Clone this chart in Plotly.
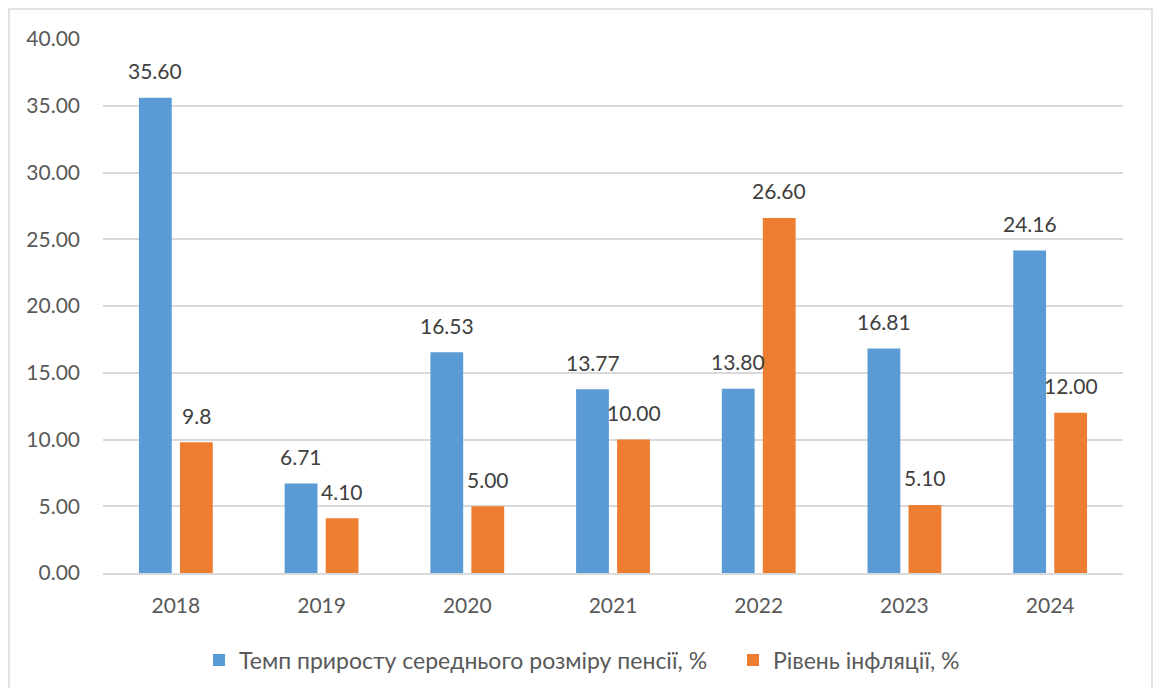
import plotly.graph_objects as go

# Роки та показники
years = ["2018", "2019", "2020", "2021", "2022", "2023", "2024"]
pension_growth = [35.60, 6.71, 16.53, 13.77, 13.80, 16.81, 24.16]
inflation = [9.8, 4.10, 5.00, 10.00, 26.60, 5.10, 12.00]
pension_labels = ["35.60", "6.71", "16.53", "13.77", "13.80", "16.81", "24.16"]
inflation_labels = ["9.8", "4.10", "5.00", "10.00", "26.60", "5.10", "12.00"]
y_ticks = [0, 5, 10, 15, 20, 25, 30, 35, 40]

series_names = ["Темп приросту середнього розміру пенсії, %", "Рівень інфляції, %"]
BLUE = "#5B9BD5"
ORANGE = "#ED7D31"
FONT = "Lato"

# Позиції категорій на осі X
pos = list(range(len(years)))

fig = go.Figure()
fig.add_trace(go.Bar(x=pos, y=pension_growth, name=series_names[0],
                     marker=dict(color=BLUE, line=dict(width=0)),
                     legend="legend"))
fig.add_trace(go.Bar(x=pos, y=inflation, name=series_names[1],
                     marker=dict(color=ORANGE, line=dict(width=0)),
                     legend="legend2"))

# Підписи значень над стовпчиками
annotations = []
for vals, labels, shift in ((pension_growth, pension_labels, -20.5),
                            (inflation, inflation_labels, 20.5)):
    for p, v, lab in zip(pos, vals, labels):
        annotations.append(dict(
            x=p, y=v, xref="x", yref="y", text=lab, showarrow=False,
            xshift=shift, yshift=27, yanchor="middle", xanchor="center",
            font=dict(family=FONT, size=21, color="#404040")))

# Рамка навколо діаграми
L, R, T, B = 103, 34, 39, 115
W, H = 1157, 688
pw, ph = W - L - R, H - T - B
shape = dict(type="rect", xref="paper", yref="paper",
             x0=(9 - L) / pw, x1=(1152 - L) / pw,
             y0=(H - B - 700) / ph, y1=(H - B - 9) / ph,
             line=dict(color="#d9d9d9", width=1.5), fillcolor="rgba(0,0,0,0)",
             layer="below")


def legend_at(left_px):
    # одна легенда на серію, розміщена в пікселях контейнера
    return dict(orientation="h", xref="container", yref="container",
                x=left_px / W, xanchor="left",
                y=1 - 660 / H, yanchor="middle",
                bgcolor="rgba(0,0,0,0)",
                font=dict(family=FONT, size=23, color="#595959"),
                itemsizing="constant")


fig.update_layout(
    width=W, height=H,
    margin=dict(l=L, r=R, t=T, b=B, autoexpand=False),
    paper_bgcolor="white", plot_bgcolor="white",
    barmode="group", bargap=0.437, bargroupgap=0.2,
    font=dict(family=FONT, size=21, color="#595959"),
    showlegend=True,
    legend=legend_at(199),
    legend2=legend_at(733),
    annotations=annotations,
    shapes=[shape],
    xaxis=dict(type="linear", range=[-0.5, len(years) - 0.5],
               tickvals=pos, ticktext=years,
               showgrid=False, zeroline=False, showline=True,
               linecolor="#d9d9d9", linewidth=1.5,
               ticks="", ticklabelstandoff=13,
               tickfont=dict(family=FONT, size=21, color="#595959")),
    yaxis=dict(range=[0, 40], tickvals=y_ticks,
               ticktext=[f"{t:.2f}" for t in y_ticks],
               showgrid=True, gridcolor="#d9d9d9", gridwidth=1.5,
               zeroline=False, showline=False, ticks="", ticklabelstandoff=22,
               tickfont=dict(family=FONT, size=21, color="#595959")),
)

fig.write_html("out.html")
